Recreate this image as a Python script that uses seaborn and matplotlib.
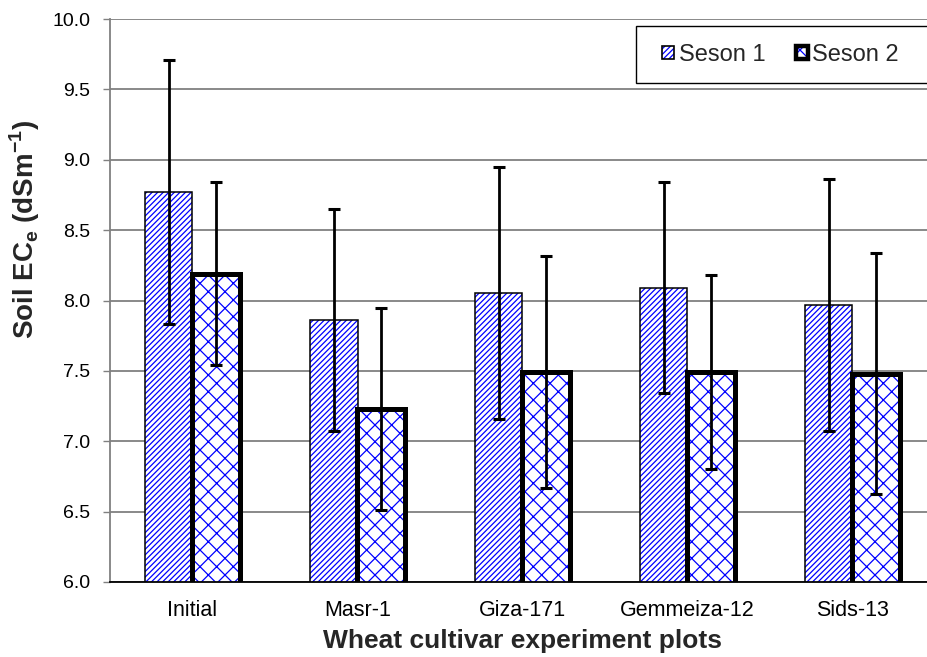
import numpy as np
import pandas as pd
import matplotlib
matplotlib.use("Agg")
import matplotlib.pyplot as plt
import seaborn as sns
from matplotlib.patches import Rectangle, Patch

# ---- data ----
categories = ["Initial", "Masr-1", "Giza-171", "Gemmeiza-12", "Sids-13"]
series = ["Seson 1", "Seson 2"]
season1 = [8.77, 7.86, 8.05, 8.09, 7.97]
season1_err = [0.94, 0.79, 0.895, 0.75, 0.895]
season2 = [8.19, 7.23, 7.49, 7.49, 7.48]
season2_err = [0.65, 0.72, 0.825, 0.69, 0.855]
yticks = [6.0, 6.5, 7.0, 7.5, 8.0, 8.5, 9.0, 9.5, 10.0]

sns.set_theme(style="white")
plt.rcParams["font.family"] = ["Liberation Sans", "DejaVu Sans"]
plt.rcParams["mathtext.fontset"] = "custom"
plt.rcParams["mathtext.rm"] = "Liberation Sans"
plt.rcParams["mathtext.bf"] = "Liberation Sans:bold"
plt.rcParams["hatch.linewidth"] = 0.9

df = pd.DataFrame({
    "plot": categories * 2,
    "season": [series[0]] * len(categories) + [series[1]] * len(categories),
    "ec": season1 + season2,
    "err": season1_err + season2_err,
})

W, H = 928, 657
fig = plt.figure(figsize=(W / 100, H / 100), dpi=100)
ax = fig.add_axes([110 / W, 1 - 582 / H, 825 / W, 563 / H])

sns.barplot(data=df, x="plot", y="ec", hue="season", order=categories,
            hue_order=series, palette=["white", "white"], width=0.58, gap=0,
            errorbar=None, legend=False, ax=ax, zorder=2)

hatches = ["//////", "xx"]
outline_lw = [1.1, 3.6]
n = len(categories)
errs = [season1_err, season2_err]
for i in range(2):
    pats = ax.patches[i * n:(i + 1) * n]
    xs, ys = [], []
    for p in pats:
        p.set_facecolor("white")
        p.set_edgecolor("blue")
        p.set_hatch(hatches[i])
        p.set_linewidth(0)
        ax.add_patch(Rectangle((p.get_x(), p.get_y()), p.get_width(), p.get_height(),
                               facecolor="none", edgecolor="black",
                               linewidth=outline_lw[i], zorder=3 + i))
        xs.append(p.get_x() + p.get_width() / 2)
        ys.append(p.get_y() + p.get_height())
    ax.errorbar(xs, ys, yerr=errs[i], fmt="none", ecolor="black",
                elinewidth=2.0, capsize=4.3, capthick=2.2, zorder=6)

ax.set_ylim(6.0, 10.0)
ax.set_xlim(-0.5, len(categories) - 0.5)
ax.set_yticks(yticks)
ax.set_yticklabels([f"{t:.1f}" for t in yticks])
ax.yaxis.grid(True, color="#808080", linewidth=1.3, zorder=0)
ax.set_axisbelow(True)

ax.set_xticks(range(len(categories)))
ax.set_xticklabels(categories)
ax.set_xticks([k + 0.5 for k in range(len(categories) - 1)], minor=True)
ax.tick_params(axis="x", which="major", length=0, pad=13, labelsize=15.5, colors="black")
ax.tick_params(axis="x", which="minor", length=7, width=1, color="black", direction="out")
ax.tick_params(axis="y", which="major", length=5, width=1, color="#808080",
               direction="out", pad=9, labelsize=14, labelcolor="black", left=True)

for s in ["top", "right"]:
    ax.spines[s].set_visible(False)
ax.spines["left"].set_color("#808080")
ax.spines["left"].set_linewidth(1.3)
ax.spines["bottom"].set_color("black")
ax.spines["bottom"].set_linewidth(1.3)

ax.set_xlabel("Wheat cultivar experiment plots", fontsize=19, fontweight="bold", labelpad=6)
ax.set_ylabel(r"Soil EC$_{\mathbf{e}}$ (dSm$^{\mathbf{-1}}$)", fontsize=20,
              fontweight="bold")
ax.yaxis.set_label_coords((42 - 110) / 825, (582 - 229) / 563)

# legend frame
fig.add_artist(Rectangle((636 / W, 1 - 83 / H), 320 / W, 57 / H, transform=fig.transFigure,
                         facecolor="white", edgecolor="black", linewidth=1.0, zorder=8))
h1 = (Patch(facecolor="white", edgecolor="blue", hatch="//////", linewidth=0),
      Patch(facecolor="none", edgecolor="black", linewidth=1.2))
h2 = (Patch(facecolor="white", edgecolor="blue", hatch="xx", linewidth=0),
      Patch(facecolor="none", edgecolor="black", linewidth=3.2))
leg = fig.legend([h1, h2], series, loc="center left",
                 bbox_to_anchor=(662 / W, 1 - 55 / H), bbox_transform=fig.transFigure,
                 ncol=2, frameon=False, fontsize=17, handlelength=0.5, handleheight=0.5,
                 handletextpad=0.2, columnspacing=1.3, borderpad=0, borderaxespad=0)
leg.set_zorder(9)

fig.savefig("out.png", dpi=100)
